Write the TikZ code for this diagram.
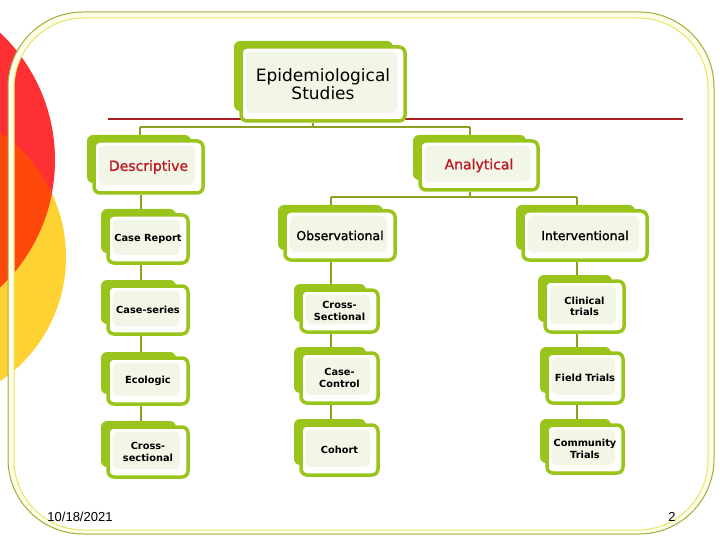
\documentclass[tikz,border=0pt]{standalone}
\usepackage{fontspec}
\setmainfont{DejaVu Sans}
\newfontfamily\semib[FakeBold=1.2]{DejaVu Sans}
\newfontfamily\datefont{Liberation Sans}
\usetikzlibrary{calc}
\definecolor{boxgreen}{RGB}{153,196,28}
\definecolor{conngreen}{RGB}{138,160,30}
\definecolor{lightfill}{RGB}{242,246,230}
\definecolor{darkred}{RGB}{190,24,36}
\definecolor{redline}{RGB}{170,30,35}
\definecolor{circred}{RGB}{255,48,52}
\definecolor{circyellow}{RGB}{255,210,52}
\definecolor{circorange}{RGB}{255,72,12}
\definecolor{frameolive}{RGB}{160,172,60}
\definecolor{frameyellow}{RGB}{232,228,100}
\definecolor{framefill}{RGB}{253,253,232}
\pgfdeclarelayer{bg}\pgfdeclarelayer{conn}\pgfsetlayers{bg,conn,main}
\tikzset{
 frontbox/.style={draw=boxgreen, line width=3.5pt, rounded corners=6pt, fill=white, inner sep=0pt, align=center,
   path picture={\fill[lightfill] ([xshift=4.5pt,yshift=-4.5pt]path picture bounding box.north west) rectangle ([xshift=-8pt,yshift=8pt]path picture bounding box.south east);}},
 backbox/.style={fill=boxgreen, rounded corners=6pt},
 conn/.style={draw=conngreen, line width=2pt},
 small/.style={font=\bfseries\fontsize{9.8}{11.5}\selectfont, text=black},
 mid/.style={font=\semib\fontsize{12.5}{14}\selectfont, text=black},
 head/.style={font=\semib\fontsize{14}{16}\selectfont, text=darkred},
 top/.style={font=\fontsize{17}{17.5}\selectfont, text=black},
 foot/.style={font=\datefont\fontsize{13}{15}\selectfont, text=black, inner sep=0pt},
}
\newcommand{\gbox}[7]{%
 \path[backbox] (#2-7,#3-6) rectangle (#4-12,#5-10);
 \node[frontbox,#6,minimum width={#4pt-#2pt},minimum height={#5pt-#3pt}] (#1) at ({(#2+#4)/2},{(#3+#5)/2}) {#7};}
\begin{document}
\begin{tikzpicture}[x=1pt,y=-1pt]
\useasboundingbox (0,0) rectangle (720,540);
\begin{pgfonlayer}{bg}
 \begin{scope}
  \clip (0,0) rectangle (720,540);
  \fill[circyellow] (-84,257) circle[radius=150];
  \fill[circred] (-120,160) circle[radius=175];
  \begin{scope}
   \clip (-84,257) circle[radius=150];
   \fill[circorange] (-120,160) circle[radius=175];
  \end{scope}
 \end{scope}
 \fill[framefill, even odd rule, rounded corners=75pt] (8,12) rectangle (714,534) [rounded corners=70pt] (14,18) rectangle (708,530);
 \draw[frameolive, line width=1pt, rounded corners=75pt] (8,12) rectangle (714,534);
 \draw[frameyellow, line width=1pt, rounded corners=70pt] (14,18) rectangle (708,530);
\end{pgfonlayer}

\gbox{epi}{241}{47}{405}{121}{top}{Epidemiological\\Studies}
\gbox{desc}{94}{141}{203}{193}{head}{Descriptive}
\gbox{anal}{420}{141}{538}{190}{head}{Analytical}
\gbox{caserep}{108}{215}{188}{263}{small}{Case Report}
\gbox{caseser}{108}{286}{188}{334}{small}{Case-series}
\gbox{ecol}{108}{358}{188}{404}{small}{Ecologic}
\gbox{cross}{108}{427}{188}{477}{small}{Cross-\\sectional}
\gbox{obs}{285}{211}{395}{260}{mid}{Observational}
\gbox{crosssec}{301}{290}{378}{332}{small}{Cross-\\Sectional}
\gbox{cc}{301}{353}{378}{403}{small}{Case-\\Control}
\gbox{cohort}{301}{425}{378}{475}{small}{Cohort}
\gbox{int}{523}{211}{647}{260}{mid}{Interventional}
\gbox{clin}{545}{281}{624}{332}{small}{Clinical\\trials}
\gbox{field}{547}{353}{623}{403}{small}{Field Trials}
\gbox{comm}{547}{425}{623}{473}{small}{Community\\Trials}

\node[foot] (date) at (80,517) {10/18/2021};
\node[foot] (pg) at (672,517) {2};

\begin{pgfonlayer}{conn}
 \coordinate (rl) at (108,119); \coordinate (rr) at (683,119);
 \draw[redline, line width=2.5pt] (rl) -- (rr);
 \coordinate (j0) at (313,127);
 \coordinate (jl) at (140,127);
 \coordinate (jr) at (470,127);
 \draw[conn] (epi.south -| j0) -- (j0);
 \draw[conn] (jl) -- (jr);
 \draw[conn] (jl) -- (desc.north -| jl);
 \draw[conn] (jr) -- (anal.north -| jr);
 \coordinate (ja) at (470,197);
 \coordinate (jo) at (331,197);
 \coordinate (ji) at (577,197);
 \draw[conn] (anal.south -| ja) -- (ja);
 \draw[conn] (jo) -- (ji);
 \draw[conn] (jo) -- (obs.north -| jo);
 \draw[conn] (ji) -- (int.north -| ji);
 \coordinate (cl) at (141,0);
 \coordinate (cm) at (331,0);
 \coordinate (cr) at (577,0);
 \draw[conn] (desc.south -| cl) -- (caserep.north -| cl);
 \draw[conn] (caserep.south -| cl) -- (caseser.north -| cl);
 \draw[conn] (caseser.south -| cl) -- (ecol.north -| cl);
 \draw[conn] (ecol.south -| cl) -- (cross.north -| cl);
 \draw[conn] (obs.south -| cm) -- (crosssec.north -| cm);
 \draw[conn] (crosssec.south -| cm) -- (cc.north -| cm);
 \draw[conn] (cc.south -| cm) -- (cohort.north -| cm);
 \draw[conn] (int.south -| cr) -- (clin.north -| cr);
 \draw[conn] (clin.south -| cr) -- (field.north -| cr);
 \draw[conn] (field.south -| cr) -- (comm.north -| cr);
\end{pgfonlayer}
\end{tikzpicture}
\end{document}
